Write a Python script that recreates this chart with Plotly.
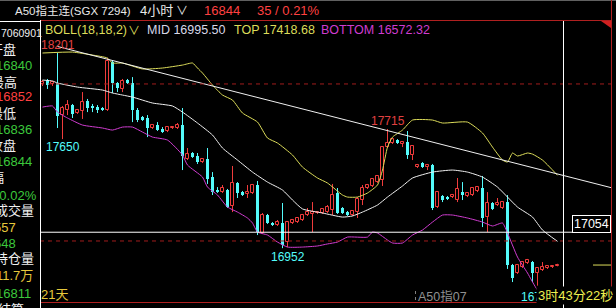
import plotly.graph_objects as go

# ---------------- data ----------------
opens = [18003,18028,18003,18009,17804,17836,17868,17817,17830,17894,
         17862,17855,17849,17836,18143,18009,17971,18028,18009,17836,
         17791,17785,17721,17740,17715,17702,17721,17721,17740,17523,
         17561,17542,17503,17523,17407,17324,17311,17324,17222,17369,
         17311,17299,17305,17356,17049,17164,17113,17100,17113,16991,
         17113,17119,17132,17164,17171,17177,17177,17183,17196,17305,
         17209,17183,17164,17183,17260,17337,17350,17375,17388,17599,
         17625,17644,17619,17631,17548,17471,17497,17471,17484,17215,
         17286,17279,17279,17260,17311,17286,17292,17318,17337,17151,
         17241,17228,17209,17247,16844,16793,16831,16857,16863,16793,
         16812,16825,16831,16840]
highs = [18028,18035,18022,18201,17862,17900,17875,17843,17951,17907,
         17875,17868,17855,18169,18156,18015,18035,18035,18047,17849,
         17798,17804,17747,17759,17727,17734,17734,17753,17849,17593,
         17567,17561,17529,17593,17439,17343,17356,17331,17478,17375,
         17318,17356,17363,17382,17177,17171,17119,17132,17241,17126,
         17139,17151,17171,17209,17247,17190,17209,17228,17363,17337,
         17215,17190,17196,17279,17356,17363,17401,17420,17606,17715,
         17657,17650,17638,17702,17612,17491,17503,17491,17491,17318,
         17292,17286,17299,17401,17375,17311,17343,17350,17414,17311,
         17247,17273,17254,17292,16851,16851,16870,16883,16870,16831,
         16863,16844,16844,16852]
lows = [17990,17971,17990,17721,17650,17804,17785,17811,17779,17823,
        17823,17817,17830,17830,17945,17951,17951,18003,17759,17759,
        17766,17663,17715,17702,17689,17695,17715,17715,17452,17516,
        17529,17491,17497,17363,17292,17305,17305,17209,17183,17273,
        17286,17273,17299,17036,17043,17107,17094,17094,16952,16959,
        17107,17113,17126,17158,17055,17171,17171,17177,17164,17171,
        17171,17158,17158,17145,17228,17331,17343,17369,17350,17593,
        17619,17619,17599,17523,17516,17465,17465,17452,17196,17209,
        17247,17260,17273,17247,17260,17279,17286,17311,17087,17055,
        17196,17222,17203,16819,16735,16787,16825,16851,16735,16712,
        16806,16819,16825,16836]
closes = [18015,17996,18015,17798,17849,17868,17811,17836,17887,17849,
          17849,17836,17836,18150,18009,17977,18022,18009,17836,17772,
          17772,17721,17740,17708,17695,17727,17727,17740,17542,17554,
          17535,17503,17523,17395,17311,17311,17337,17215,17369,17305,
          17292,17311,17356,17055,17164,17113,17100,17119,16972,17119,
          17132,17145,17164,17183,17183,17183,17203,17215,17292,17177,
          17177,17164,17190,17267,17337,17356,17395,17414,17599,17625,
          17650,17625,17631,17548,17606,17484,17471,17484,17209,17311,
          17260,17267,17292,17331,17292,17305,17337,17343,17145,17241,
          17203,17241,17247,16844,16761,16844,16863,16876,16793,16825,
          16831,16838,16838,16844]

top_idx = [0,6,10,13,14,16,20,24,28,30,31,32,34,36,38,40,43,45,47,50,
           52,55,57,60,61,63,65,67,68,69,70,72,74,78,80,85,88,90,92,93,
           94,95,97,98,100,103]
top_val = [18201,18207,18188,18169,18137,18137,18099,18105,18124,18137,
           18105,18073,17996,17932,17900,17817,17759,17657,17625,17548,
           17471,17401,17369,17292,17279,17279,17305,17356,17452,17599,
           17663,17708,17772,17772,17753,17759,17689,17599,17516,17503,
           17561,17542,17561,17554,17516,17418.68]
mid_idx = [0,2,3,7,12,14,16,18,22,26,28,31,34,36,39,42,45,48,50,52,
           56,60,62,64,67,69,72,74,78,82,85,88,91,93,95,98,100,103]
mid_val = [18028,18022,18009,17983,17964,17945,17932,17919,17881,17862,
           17823,17753,17676,17593,17516,17439,17375,17324,17260,17203,
           17177,17151,17158,17183,17228,17279,17350,17401,17439,17452,
           17439,17407,17343,17279,17215,17151,17068,16995.5]
bot_idx = [0,2,3,5,8,12,14,16,18,20,22,25,28,29,32,33,35,37,39,41,
           42,43,45,47,49,52,55,57,59,61,65,66,67,69,70,72,74,76,78,80,
           82,85,88,90,92,93,95,97,99,103]
bot_val = [17855,17862,17823,17785,17740,17721,17708,17727,17727,17695,
           17663,17644,17548,17484,17407,17343,17292,17215,17183,17145,
           17113,17055,17036,16991,16959,16959,16966,16979,16991,17023,
           17023,17055,17049,17004,16985,16985,17036,17068,17119,17164,
           17164,17145,17119,17094,17113,17049,16895,16793,16684,16572.32]

trend_idx = [3, 114]
trend_val = [18243, 17337]

cross_idx = 104.2
cross_price = 17054
dash_levels = [18003, 16998]
last_price = 16844

hi_label = (3, 18201, "18201")
lo_label1 = (4, 17650, "17650")
lo_label2 = (48, 16952, "16952")
hi_label2 = (69, 17715, "17715")
lo_label3 = (99, 16712, "16712")

# ---------------- styles ----------------
RED = "#f03c3c"
CYAN = "#54fcfc"
YEL = "#dcdc5a"
MAG = "#d03cd0"
WHITE = "#f0f0f0"
GREEN = "#3cc83c"
GOLD = "#e6c83c"
FONT = "Liberation Sans, Noto Sans CJK SC, sans-serif"

X0, X1, Y0, Y1 = 40, 612, 21, 303


def px(x):
    return (x - X0) / (X1 - X0)


def py(y):
    return (Y1 - y) / (Y1 - Y0)


fig = go.Figure()

n = len(opens)
idx = list(range(n))
up = [closes[i] >= opens[i] for i in idx]

for color, flag in ((RED, True), (CYAN, False)):
    wx, wy = [], []
    for i in idx:
        if up[i] != flag:
            continue
        lo_b = min(opens[i], closes[i])
        hi_b = max(opens[i], closes[i])
        wx += [i, i, None, i, i, None]
        wy += [lows[i], lo_b, None, hi_b, highs[i], None]
    fig.add_trace(go.Scatter(x=wx, y=wy, mode="lines",
                             line=dict(color=color, width=1),
                             hoverinfo="skip"))

ux = [i for i in idx if up[i]]
dx = [i for i in idx if not up[i]]
fig.add_trace(go.Bar(x=ux, y=[max(closes[i] - opens[i], 4) for i in ux],
                     base=[opens[i] for i in ux], width=0.45,
                     marker=dict(color="black", line=dict(color=RED, width=1))))
fig.add_trace(go.Bar(x=dx, y=[max(opens[i] - closes[i], 4) for i in dx],
                     base=[closes[i] for i in dx], width=0.6,
                     marker=dict(color=CYAN, line=dict(width=0))))

for xs, ys, c in ((top_idx, top_val, YEL), (mid_idx, mid_val, WHITE),
                  (bot_idx, bot_val, MAG)):
    fig.add_trace(go.Scatter(x=xs, y=ys, mode="lines",
                             line=dict(color=c, width=1, shape="spline", smoothing=0.5),
                             hoverinfo="skip"))

fig.add_trace(go.Scatter(x=trend_idx, y=trend_val, mode="lines",
                         line=dict(color=WHITE, width=1), hoverinfo="skip"))

shapes = []
for lv in dash_levels:
    shapes.append(dict(type="line", xref="paper", x0=0, x1=1, yref="y", y0=lv, y1=lv,
                       line=dict(color="#a01c1c", width=1, dash="4px,4px")))
# crosshair
shapes.append(dict(type="line", xref="paper", x0=0, x1=1, yref="y",
                   y0=cross_price, y1=cross_price, line=dict(color="white", width=1)))
shapes.append(dict(type="line", xref="x", x0=cross_idx, x1=cross_idx, yref="paper",
                   y0=py(308), y1=py(20), line=dict(color="white", width=1)))
# last price marker
shapes.append(dict(type="line", xref="paper", x0=px(593), x1=1, yref="y",
                   y0=last_price, y1=last_price, line=dict(color=YEL, width=1)))
# frame
shapes.append(dict(type="line", xref="paper", yref="paper", x0=px(0), x1=px(616),
                   y0=py(0.5), y1=py(0.5), line=dict(color="#606060", width=1)))
shapes.append(dict(type="line", xref="paper", yref="paper", x0=px(40), x1=px(612),
                   y0=py(20.5), y1=py(20.5), line=dict(color="#b02020", width=1)))
shapes.append(dict(type="line", xref="paper", yref="paper", x0=px(40), x1=px(612),
                   y0=py(302.5), y1=py(302.5), line=dict(color="#b02020", width=1)))
shapes.append(dict(type="line", xref="paper", yref="paper", x0=px(611.5), x1=px(611.5),
                   y0=py(0), y1=py(303), line=dict(color="#b02020", width=1)))
shapes.append(dict(type="line", xref="paper", yref="paper", x0=px(40.5), x1=px(40.5),
                   y0=py(20), y1=py(308), line=dict(color="white", width=1)))
shapes.append(dict(type="line", xref="paper", yref="paper", x0=px(0), x1=px(40),
                   y0=py(21.5), y1=py(21.5), line=dict(color="white", width=1)))
shapes.append(dict(type="path", xref="paper", yref="paper",
                   path=f"M {px(601)},{py(21)} L {px(611)},{py(21)} L {px(611)},{py(28)} Z",
                   fillcolor="#d02020", line=dict(width=0)))
shapes.append(dict(type="line", xref="paper", yref="paper", x0=px(415.5), x1=px(415.5),
                   y0=py(291), y1=py(300), line=dict(color="#808080", width=1, dash="dot")))

ann = []


def txt(s, x, y, color, size=12.5, xanchor="left", **kw):
    ann.append(dict(text=s, x=px(x), y=py(y), xref="paper", yref="paper",
                    xanchor=xanchor, yanchor="middle", showarrow=False,
                    font=dict(color=color, size=size, family=FONT), **kw))


def dlabel(item, color, shift):
    i, p, s = item
    ann.append(dict(text=s, x=i, y=p, xref="x", yref="y", xanchor="center",
                    yanchor="middle", yshift=shift, showarrow=False,
                    font=dict(color=color, size=12, family=FONT)))


# header
txt("A50指主连(SGX 7294)", 13, 10, "#e8e8e8", 11.5)
txt("4小时", 138, 10, "#e8e8e8", 13)
txt("∨", 174, 11, "#e8e8e8", 12)
txt("16844", 202, 10, "#ff4040", 13)
txt("35 / 0.21%", 255, 10, "#ff4040", 13)
# indicator row
txt("BOLL(18,18,2)", 43, 30, YEL, 12.5)
txt("∨", 126, 31, YEL, 12)
txt("MID 16995.50", 145, 30, "#d8d8e8", 12.5)
txt("TOP 17418.68", 232, 30, YEL, 12.5)
txt("BOTTOM 16572.32", 319, 30, MAG, 12.5)

# left panel
left_rows = [("7060901", 33, "#f0f0f0", -1, 10.5),
             ("开盘", 49, "#f0f0f0", -12, 13), ("16840", 65, GREEN, -6, 13),
             ("最高", 82, "#f0f0f0", -11, 13), ("16852", 97, "#ff4040", -6, 13),
             ("最低", 113, "#f0f0f0", -12, 13), ("16836", 129, GREEN, -6, 13),
             ("收盘", 145, "#f0f0f0", -12, 13), ("16844", 161, GREEN, -6, 13),
             ("涨幅", 177, "#f0f0f0", -24, 13), ("-0.02%", 195, GREEN, -7, 13),
             ("成交量", 210, "#f0f0f0", -7, 13), ("557", 227, GOLD, -8, 13),
             ("648", 243, GREEN, -8, 13), ("持仓量", 258, "#f0f0f0", -7, 13),
             ("11.7万", 275, GOLD, -6, 13), ("16811", 293, GREEN, -6, 13),
             ("结算", 309, "#f0f0f0", -4, 13)]
for s, y, c, x, sz in left_rows:
    txt(s, x, y, c, sz)

# chart labels
dlabel(hi_label, "#e04040", 8)
dlabel(lo_label1, CYAN, -8)
ann.append(dict(text=lo_label2[2], x=lo_label2[0], y=lo_label2[1], xref="x", yref="y",
                xanchor="center", yanchor="middle", yshift=-9, xshift=5, showarrow=False,
                font=dict(color=CYAN, size=12, family=FONT)))
dlabel(hi_label2, "#e04040", 8)
dlabel(lo_label3, CYAN, -11)
txt("21天", 39, 294, GOLD, 13)
txt("A50指07", 416, 296, "#909090", 12.5)
txt("3时43分22秒", 536, 295, "#f0f050", 13, bgcolor="black")
ann.append(dict(text=str(cross_price), x=px(591.5), y=cross_price, xref="paper", yref="y",
                xanchor="center", yanchor="bottom", yshift=-1, showarrow=False,
                bgcolor="black", bordercolor="white", borderwidth=1, borderpad=1,
                font=dict(color="white", size=12.5, family=FONT)))

fig.update_layout(
    width=616, height=308,
    margin=dict(l=X0, r=616 - X1, t=Y0, b=308 - Y1),
    paper_bgcolor="black", plot_bgcolor="black",
    showlegend=False, barmode="overlay", bargap=0,
    xaxis=dict(range=[-0.5, 113.9], visible=False, fixedrange=True),
    yaxis=dict(range=[16601, 18406], visible=False, fixedrange=True),
    shapes=shapes, annotations=ann,
)

fig.write_html("out.html", config={"displayModeBar": False})
